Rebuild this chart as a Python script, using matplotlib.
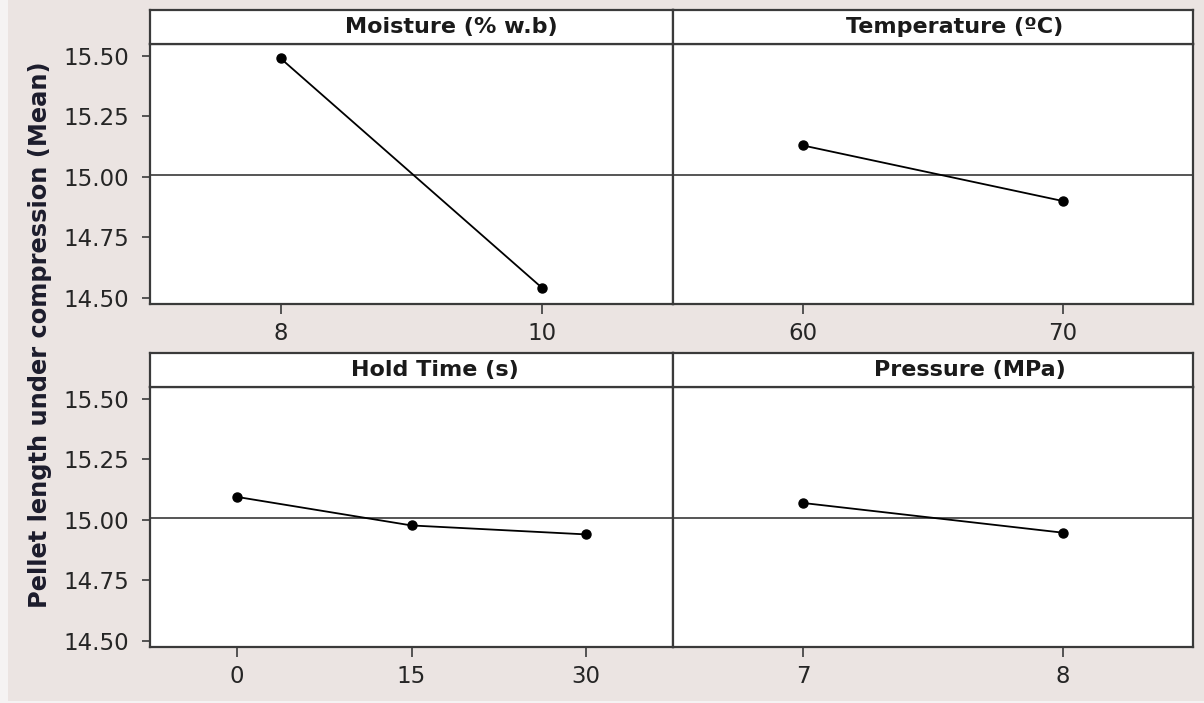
import matplotlib
matplotlib.use("Agg")
import matplotlib.pyplot as plt
from matplotlib.patches import Rectangle

# Main effects data
moisture_levels = ["8", "10"]
moisture_means = [15.49, 14.54]

temp_levels = ["60", "70"]
temp_means = [15.13, 14.90]

hold_levels = ["0", "15", "30"]
hold_means = [15.095, 14.977, 14.94]

pressure_levels = ["7", "8"]
pressure_means = [15.07, 14.947]

titles = ["Moisture (% w.b)", "Temperature (ºC)", "Hold Time (s)", "Pressure (MPa)"]
grand_mean = 15.008
y_ticks = [14.50, 14.75, 15.00, 15.25, 15.50]

panels = [
    (moisture_levels, moisture_means),
    (temp_levels, temp_means),
    (hold_levels, hold_means),
    (pressure_levels, pressure_means),
]

W, H = 1204, 703
fig = plt.figure(figsize=(W / 100, H / 100), dpi=100, facecolor="#F5F3F3")
# pinkish grey background (leaves a thin lighter strip at left/bottom edge)
fig.patches.append(Rectangle((8 / W, 2 / H), 1, 1, transform=fig.transFigure,
                             facecolor="#EBE4E2", edgecolor="none", zorder=-10))

frame_col = "#3a3a3a"
text_col = "#252525"

# pixel boxes: (left, right, strip_top, plot_top, plot_bottom)
boxes = [
    (150, 673, 10, 43.5, 304),
    (673, 1193, 10, 43.5, 304),
    (150, 673, 353, 386.5, 647),
    (673, 1193, 353, 386.5, 647),
]
# the strip titles sit a bit right of the panel centre in the original
title_centres = [451, 955, 435, 970]

for i, ((levels, means), title, (l, r, st, pt, pb)) in enumerate(zip(panels, titles, boxes)):
    ax = fig.add_axes([l / W, 1 - pb / H, (r - l) / W, (pb - pt) / H])
    x = list(range(1, len(levels) + 1))
    ax.axhline(grand_mean, color="#555555", lw=1.4, zorder=1)
    ax.plot(x, means, color="black", lw=1.3, marker="o", markersize=6.5, zorder=3)
    ax.set_xlim(0.5, len(levels) + 0.5)
    ax.set_ylim(14.474, 15.552)
    ax.set_xticks(x)
    ax.set_xticklabels(levels)
    ax.set_yticks(y_ticks)
    ax.set_yticklabels([f"{v:.2f}" for v in y_ticks])
    ax.tick_params(axis="x", length=7, width=1.2, pad=6, labelsize=16.5,
                   colors=frame_col, labelcolor=text_col)
    if i % 2 == 0:
        ax.tick_params(axis="y", length=6, width=1.2, pad=9, labelsize=16.5,
                       colors=frame_col, labelcolor=text_col)
    else:
        ax.tick_params(axis="y", left=False, labelleft=False)
    for sp in ax.spines.values():
        sp.set_color(frame_col)
        sp.set_linewidth(1.6)

    # strip with the factor name
    sax = fig.add_axes([l / W, 1 - pt / H, (r - l) / W, (pt - st) / H])
    sax.set_xticks([])
    sax.set_yticks([])
    sax.set_facecolor("white")
    for sp in sax.spines.values():
        sp.set_color(frame_col)
        sp.set_linewidth(1.6)
    sax.text((title_centres[i] - l) / (r - l), 0.5, title, transform=sax.transAxes,
             ha="center", va="center", fontsize=16, fontweight="bold", color="#1a1a1a")

fig.text(40 / W, 1 - 335 / H, "Pellet length under compression (Mean)",
         rotation=90, ha="center", va="center", fontsize=17.4,
         fontweight="bold", color="#1c1c2c")

fig.savefig("out.png", dpi=100, facecolor=fig.get_facecolor())
